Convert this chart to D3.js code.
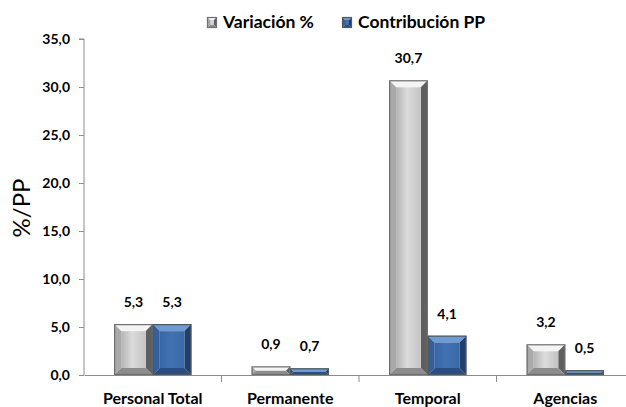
<!DOCTYPE html>
<meta charset="utf-8">
<script src="https://d3js.org/d3.v7.min.js"></script>
<style>
  body { margin:0; background:#fff; }
  text { font-family: Lato, "Open Sans", sans-serif; }
</style>
<div id="chart"></div>
<script>

// data
const categories = ["Personal Total", "Permanente", "Temporal", "Agencias"];
const series = ["Variación %", "Contribución PP"];
const variacion = [5.3, 0.9, 30.7, 3.2];
const contribucion = [5.3, 0.7, 4.1, 0.5];
const yTicks = [0, 5, 10, 15, 20, 25, 30, 35];

const width = 626, height = 407;
const margin = { top: 39, right: -8, bottom: 32, left: 84 };

const svg = d3.select("#chart").append("svg")
  .attr("width", width)
  .attr("height", height);

const x0 = d3.scaleBand()
  .domain(categories)
  .range([margin.left, width - margin.right]);

const x1 = d3.scaleBand()
  .domain(series)
  .range([0, x0.bandwidth()])
  .paddingInner(0)
  .paddingOuter(0.78);

const y = d3.scaleLinear()
  .domain([0, 35])
  .range([height - margin.bottom, margin.top]);

const fmt = v => d3.format(".1f")(v).replace(".", ",");

// colours for the bevelled bars
const styles = {
  "Variación %": { outline: "#6e6e6e", top: "#f4f4f4", left: "#a9a9a9", right: "#5f5f5f", bottom: "#8c8c8c",
                   face: ["#b4b4b4", "#dcdcdc", "#c4c4c4"], id: "gGray" },
  "Contribución PP": { outline: "#505860", top: "#6f9ad2", left: "#345f98", right: "#213f68", bottom: "#2b4e80",
                   face: ["#3766a4", "#4272b2", "#3a69a8"], id: "gBlue" }
};

const defs = svg.append("defs");
Object.values(styles).forEach(s => {
  const g = defs.append("linearGradient").attr("id", s.id).attr("x1", 0).attr("x2", 1).attr("y1", 0).attr("y2", 0);
  g.append("stop").attr("offset", "0%").attr("stop-color", s.face[0]);
  g.append("stop").attr("offset", "45%").attr("stop-color", s.face[1]);
  g.append("stop").attr("offset", "100%").attr("stop-color", s.face[2]);
});

function bevelBar(g, bx, by, w, h, s, maxB) {
  const b = Math.min(maxB, h / 2, w / 2);
  const x2 = bx + w, y2 = by + h;
  const poly = pts => "M" + pts.map(p => p.join(",")).join("L") + "Z";
  g.append("path").attr("d", poly([[bx, by], [x2, by], [x2 - b, by + b], [bx + b, by + b]])).attr("fill", s.top);
  g.append("path").attr("d", poly([[bx, by], [bx + b, by + b], [bx + b, y2 - b], [bx, y2]])).attr("fill", s.left);
  g.append("path").attr("d", poly([[x2, by], [x2, y2], [x2 - b, y2 - b], [x2 - b, by + b]])).attr("fill", s.right);
  g.append("path").attr("d", poly([[bx, y2], [bx + b, y2 - b], [x2 - b, y2 - b], [x2, y2]])).attr("fill", s.bottom);
  if (h - 2 * b > 0)
    g.append("rect").attr("x", bx + b).attr("y", by + b).attr("width", w - 2 * b).attr("height", h - 2 * b)
      .attr("fill", "url(#" + s.id + ")");
  g.append("rect").attr("x", bx + 0.5).attr("y", by + 0.5).attr("width", w - 1).attr("height", Math.max(0, h - 1))
    .attr("fill", "none").attr("stroke", s.outline).attr("stroke-width", 1.2);
}

// axes
const yAxis = svg.append("g")
  .attr("transform", `translate(${margin.left},0)`)
  .call(d3.axisLeft(y).tickValues(yTicks).tickFormat(fmt).tickSize(5).tickPadding(9));
yAxis.select(".domain").attr("stroke", "#8c8c8c").attr("d", `M-5,${y(35)}H0V${y(0)}`);
yAxis.selectAll(".tick line").attr("stroke", "#8c8c8c");
yAxis.selectAll(".tick text").attr("fill", "#000").style("font-size", "14px").style("font-weight", "bold");

const xAxis = svg.append("g")
  .attr("transform", `translate(0,${y(0)})`)
  .call(d3.axisBottom(x0).tickSize(0).tickPadding(18));
xAxis.select(".domain").attr("stroke", "#8c8c8c");
xAxis.selectAll(".tick text").attr("fill", "#000").style("font-size", "16px").style("font-weight", "bold");

// separators between categories
svg.append("g").selectAll("line")
  .data(categories.slice(1))
  .join("line")
  .attr("x1", d => x0(d)).attr("x2", d => x0(d))
  .attr("y1", y(0)).attr("y2", y(0) + 7)
  .attr("stroke", "#8c8c8c");

// bars
const rows = categories.map((c, i) => ({ cat: c, vals: [variacion[i], contribucion[i]] }));
const groups = svg.append("g").selectAll("g")
  .data(rows)
  .join("g");

groups.each(function(d) {
  const g = d3.select(this);
  series.forEach((s, j) => {
    const v = d.vals[j];
    const bx = x0(d.cat) + x1(s);
    const by = y(v);
    bevelBar(g, bx, by, x1.bandwidth(), y(0) - by, styles[s], 7);
    g.append("text")
      .attr("x", bx + x1.bandwidth() / 2)
      .attr("y", by - 17)
      .attr("text-anchor", "middle")
      .style("font-size", "14px")
      .style("font-weight", "bold")
      .text(fmt(v));
  });
});

// y title
svg.append("text")
  .attr("transform", `translate(30,208) rotate(-90)`)
  .attr("text-anchor", "middle")
  .style("font-size", "24px")
  .text("%/PP");

// legend
const legend = svg.append("g").attr("transform", "translate(0,22)");
const legendX = [207, 342];
series.forEach((s, j) => {
  const lg = legend.append("g").attr("transform", `translate(${legendX[j]},0)`);
  bevelBar(lg, 0, -5, 10, 11, styles[s], 3);
  lg.append("text")
    .attr("x", 16).attr("y", 6)
    .style("font-size", "17.5px")
    .style("font-weight", "bold")
    .text(s);
});

</script>
